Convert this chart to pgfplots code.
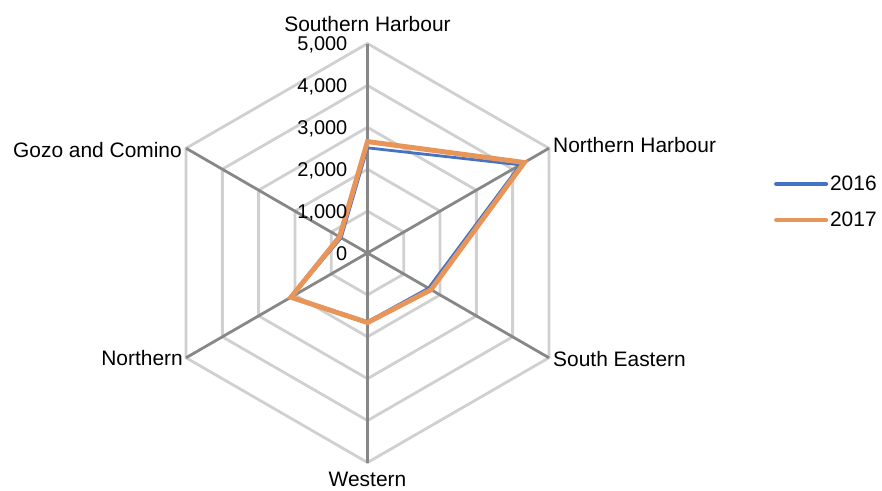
\documentclass[border=0pt]{standalone}
\usepackage{fontspec}
\setmainfont{Liberation Sans}
\usepackage{pgfplots}
\pgfplotsset{compat=1.18}
\definecolor{c16}{HTML}{4472C4}
\definecolor{c17}{HTML}{E8955A}
\definecolor{gridc}{HTML}{D0D0D0}
\definecolor{spoke}{HTML}{878787}
\begin{document}
\begin{tikzpicture}
\begin{axis}[
  width=882bp, height=491bp, scale only axis,
  xmin=-8771, xmax=12280, ymin=-5680, ymax=6039,
  hide axis, clip=false,
  legend style={draw=none, fill=none, at={(axis cs:9700,1218)}, anchor=west,
    font=\fontsize{21}{25}\selectfont, row sep=16bp, inner sep=0pt,
    nodes={inner sep=2bp}},
  legend cell align=left,
  legend image code/.code={\draw[#1, line width=4bp, line cap=round] (0bp,0bp) -- (50bp,0bp);},
]
% hexagonal grid
\addplot[forget plot, gridc, line width=2.8bp, data cs=polar] coordinates {(90,1000) (30,1000) (-30,1000) (-90,1000) (-150,1000) (150,1000) (90,1000)};
\addplot[forget plot, gridc, line width=2.8bp, data cs=polar] coordinates {(90,2000) (30,2000) (-30,2000) (-90,2000) (-150,2000) (150,2000) (90,2000)};
\addplot[forget plot, gridc, line width=2.8bp, data cs=polar] coordinates {(90,3000) (30,3000) (-30,3000) (-90,3000) (-150,3000) (150,3000) (90,3000)};
\addplot[forget plot, gridc, line width=2.8bp, data cs=polar] coordinates {(90,4000) (30,4000) (-30,4000) (-90,4000) (-150,4000) (150,4000) (90,4000)};
\addplot[forget plot, gridc, line width=2.8bp, line join=miter, data cs=polar] coordinates {(90,5000) (30,5000) (-30,5000) (-90,5000) (-150,5000) (150,5000) (90,5000) (30,5000)};
% spokes
\addplot[forget plot, spoke, line width=2.8bp, data cs=polar] coordinates {(90,5000) (270,5000)};
\addplot[forget plot, spoke, line width=2.8bp, data cs=polar] coordinates {(30,5000) (210,5000)};
\addplot[forget plot, spoke, line width=2.8bp, data cs=polar] coordinates {(150,5000) (330,5000)};
% data
\addplot[c16, line width=2.8bp, line join=miter, data cs=polar] coordinates {
  (90,2510) (30,4210) (-30,1680) (-90,1640) (-150,2100) (150,725) (90,2510) (30,4210)};
\addlegendentry{2016}
\addplot[c17, line width=5bp, line join=miter, data cs=polar] coordinates {
  (90,2660) (30,4320) (-30,1750) (-90,1660) (-150,2110) (150,770) (90,2660) (30,4320)};
\addlegendentry{2017}
% tick labels
\begin{scope}[every node/.style={font=\fontsize{20}{23}\selectfont, inner sep=0pt, anchor=base east}]
\node at (axis cs:-477,-170) {0};
\node at (axis cs:-477,830) {1,000};
\node at (axis cs:-477,1830) {2,000};
\node at (axis cs:-477,2830) {3,000};
\node at (axis cs:-477,3830) {4,000};
\node at (axis cs:-477,4830) {5,000};
\end{scope}
% category labels
\begin{scope}[every node/.style={font=\fontsize{21}{25}\selectfont, inner sep=0pt}]
\node[anchor=base] at (axis cs:0,5282) {Southern Harbour};
\node[anchor=west] at (axis cs:4428,2578) {Northern Harbour};
\node[anchor=west] at (axis cs:4428,-2530) {South Eastern};
\node[anchor=base] at (axis cs:0,-5580) {Western};
\node[anchor=east] at (axis cs:-4404,-2506) {Northern};
\node[anchor=east] at (axis cs:-4428,2459) {Gozo and Comino};
\end{scope}
\end{axis}
\pgfresetboundingbox
\useasboundingbox (current axis.south west) rectangle (current axis.north east);
\end{tikzpicture}
\end{document}
